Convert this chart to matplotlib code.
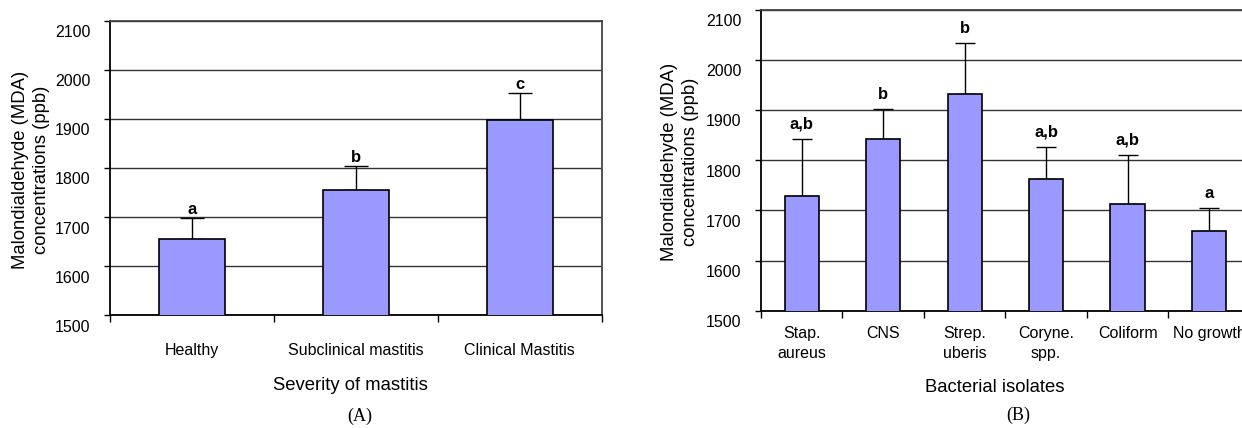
import matplotlib
matplotlib.use('Agg')
import matplotlib.pyplot as plt
import matplotlib.transforms as mtransforms
import numpy as np

plt.rcParams['font.family'] = ['Liberation Sans', 'DejaVu Sans']

# panel A - severity of mastitis
sev_labels = ['Healthy', 'Subclinical mastitis', 'Clinical Mastitis']
sev_mean = [1656, 1756, 1898]
sev_err = [42, 48, 54]
sev_letters = ['a', 'b', 'c']

# panel B - bacterial isolates
bac_labels = ['Stap.\naureus', 'CNS', 'Strep.\nuberis', 'Coryne.\nspp.', 'Coliform', 'No growth']
bac_mean = [1728, 1843, 1932, 1762, 1713, 1659]
bac_err = [115, 59, 102, 65, 98, 46]
bac_letters = ['a,b', 'b', 'b', 'a,b', 'a,b', 'a']

yticks = [1500, 1600, 1700, 1800, 1900, 2000, 2100]

W, H = 1242, 428
fig = plt.figure(figsize=(W / 100, H / 100), dpi=100)


def px_axes(left, top, right, bottom):
    return fig.add_axes([left / W, 1 - bottom / H, (right - left) / W, (bottom - top) / H])


def style(ax, labels, means, errs, letters, width, capsize, letter_off, label_pad):
    x = np.arange(len(labels))
    ax.bar(x, means, width=width, bottom=0, color='#9999ff', edgecolor='black',
           linewidth=1.2, zorder=3)
    ax.errorbar(x, means, yerr=[np.zeros(len(errs)), errs], fmt='none', ecolor='black',
                elinewidth=1.0, capsize=capsize, capthick=1.0, zorder=2)
    for xi, m, e, t in zip(x, means, errs, letters):
        ax.annotate(t, (xi, m + e), xytext=(0, letter_off), textcoords='offset points',
                    ha='center', va='baseline', fontsize=12, fontweight='bold', zorder=4)
    ax.set_ylim(1500, 2100)
    ax.set_yticks(yticks)
    ax.yaxis.grid(True, color='#333333', linewidth=1.0, zorder=0)
    ax.set_axisbelow(True)
    ax.tick_params(axis='y', length=4, width=1, labelsize=11.5, pad=10)
    off = mtransforms.ScaledTranslation(0, -10.5 / 100, fig.dpi_scale_trans)
    for lab in ax.get_yticklabels():
        lab.set_transform(lab.get_transform() + off)
    # category boundaries as major ticks, names on minor ticks
    ax.set_xticks(np.arange(len(labels) + 1) - 0.5)
    ax.set_xticklabels([])
    ax.set_xticks(x, minor=True)
    ax.set_xticklabels(labels, minor=True, fontsize=11.5, linespacing=1.4)
    ax.tick_params(axis='x', which='major', length=5, width=1)
    ax.tick_params(axis='x', which='minor', length=0, pad=label_pad)
    ax.set_xlim(-0.5, len(labels) - 0.5)
    for s in ['left', 'bottom']:
        ax.spines[s].set_linewidth(1.3)
        ax.spines[s].set_color('black')
    for s in ['top', 'right']:
        ax.spines[s].set_linewidth(1.3)
        ax.spines[s].set_color('#444444')


axA = px_axes(110, 20.7, 601.7, 315.3)
style(axA, sev_labels, sev_mean, sev_err, sev_letters, 0.4, 8.5, 3, 20)

axB = px_axes(761, 9.5, 1249.8, 310.7)
style(axB, bac_labels, bac_mean, bac_err, bac_letters, 0.42, 7, 7, 11)

fig.text(31 / W, 1 - 170 / H, 'Malondialdehyde (MDA)\nconcentrations (ppb)', rotation=90,
         ha='center', va='center', fontsize=13.3, linespacing=1.35)
fig.text(680 / W, 1 - 162 / H, 'Malondialdehyde (MDA)\nconcentrations (ppb)', rotation=90,
         ha='center', va='center', fontsize=13.3, linespacing=1.35)

fig.text(350.5 / W, 1 - 385 / H, 'Severity of mastitis', ha='center', va='center', fontsize=13.3)
fig.text(995 / W, 1 - 388 / H, 'Bacterial isolates', ha='center', va='center', fontsize=13.3)

fig.text(360 / W, 1 - 416 / H, '(A)', ha='center', va='center', fontsize=13,
         family=['Liberation Serif', 'DejaVu Serif'])
fig.text(1018 / W, 1 - 415 / H, '(B)', ha='center', va='center', fontsize=13,
         family=['Liberation Serif', 'DejaVu Serif'])

fig.savefig('out.png', dpi=100)
